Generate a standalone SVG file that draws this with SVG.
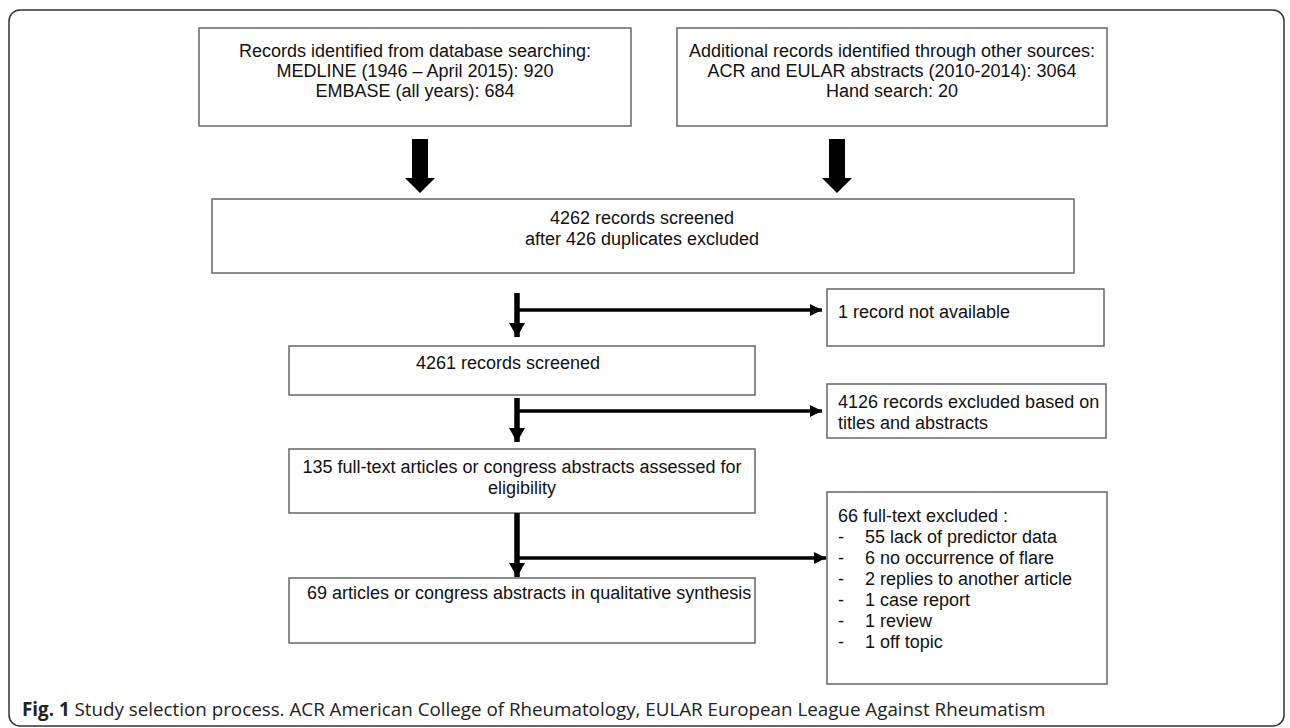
<svg xmlns="http://www.w3.org/2000/svg" width="1290" height="728" viewBox="0 0 1290 728">
<defs>
<style>
.box{fill:#fff;stroke:#666;stroke-width:1.5}
.t{font-family:"Liberation Sans",Arial,sans-serif;font-size:18px;fill:#111}
.c{text-anchor:middle}
.cap{font-family:"Open Sans","Noto Sans",sans-serif;font-size:18.8px;fill:#222}
.thin{stroke:#000;stroke-width:3.5;fill:none}
.vert{stroke:#000;stroke-width:5.5;fill:none}
</style>
<marker id="ah" markerUnits="userSpaceOnUse" markerWidth="12" markerHeight="14" refX="12" refY="7" orient="auto"><path d="M0,1 L12,7 L0,13 Z" fill="#000"/></marker>
<marker id="ahd" markerUnits="userSpaceOnUse" markerWidth="16" markerHeight="16" refX="14" refY="8" orient="auto"><path d="M0,0 L14,8 L0,16 Z" fill="#000"/></marker>
</defs>
<rect x="9" y="10" width="1275" height="716" rx="11" fill="none" stroke="#333" stroke-width="1.5"/>

<g id="n1">
<rect class="box" x="199" y="28" width="432" height="98"/>
<text class="t c" x="415" y="57">Records identified from database searching:</text>
<text class="t c" x="415" y="77">MEDLINE (1946 – April 2015): 920</text>
<text class="t c" x="415" y="97">EMBASE (all years): 684</text>
</g>
<g id="n2">
<rect class="box" x="677" y="28" width="430" height="98"/>
<text class="t c" x="892" y="57">Additional records identified through other sources:</text>
<text class="t c" x="892" y="77">ACR and EULAR abstracts (2010-2014): 3064</text>
<text class="t c" x="892" y="97">Hand search: 20</text>
</g>
<g id="n3">
<rect class="box" x="212" y="199" width="862" height="74"/>
<text class="t c" x="642" y="224">4262 records screened</text>
<text class="t c" x="642" y="245">after 426 duplicates excluded</text>
</g>
<g id="n4">
<rect class="box" x="827" y="289" width="277" height="57"/>
<text class="t" x="838" y="318">1 record not available</text>
</g>
<g id="n5">
<rect class="box" x="289" y="346" width="466" height="49"/>
<text class="t" x="416" y="369">4261 records screened</text>
</g>
<g id="n6">
<rect class="box" x="827" y="384" width="279" height="54"/>
<text class="t" x="838" y="408">4126 records excluded based on</text>
<text class="t" x="838" y="429">titles and abstracts</text>
</g>
<g id="n7">
<rect class="box" x="289" y="449" width="466" height="64"/>
<text class="t c" x="522" y="473">135 full-text articles or congress abstracts assessed for</text>
<text class="t c" x="522" y="494">eligibility</text>
</g>
<g id="n8">
<rect class="box" x="827" y="492" width="280" height="192"/>
<text class="t" x="838" y="522">66 full-text excluded :</text>
<text class="t" x="838" y="543">-</text><text class="t" x="865" y="543">55 lack of predictor data</text>
<text class="t" x="838" y="564">-</text><text class="t" x="865" y="564">6 no occurrence of flare</text>
<text class="t" x="838" y="585">-</text><text class="t" x="865" y="585">2 replies to another article</text>
<text class="t" x="838" y="606">-</text><text class="t" x="865" y="606">1 case report</text>
<text class="t" x="838" y="627">-</text><text class="t" x="865" y="627">1 review</text>
<text class="t" x="838" y="648">-</text><text class="t" x="865" y="648">1 off topic</text>
</g>
<g id="n9">
<rect class="box" x="289" y="578" width="466" height="65"/>
<text class="t" x="307" y="599">69 articles or congress abstracts in qualitative synthesis</text>
</g>

<g id="connectors">
<path d="M412,139 H428 V178 H435 L420,193 L405,178 H412 Z" fill="#000"/>
<path d="M829,139 H845 V178 H852 L837,193 L822,178 H829 Z" fill="#000"/>
<line class="vert" x1="517" y1="293" x2="517" y2="337" marker-end="url(#ahd)"/>
<line class="thin" x1="517" y1="310" x2="822" y2="310" marker-end="url(#ah)"/>
<line class="vert" x1="517" y1="398" x2="517" y2="442" marker-end="url(#ahd)"/>
<line class="thin" x1="517" y1="411" x2="822" y2="411" marker-end="url(#ah)"/>
<line class="vert" x1="517" y1="513" x2="517" y2="577" marker-end="url(#ahd)"/>
<line class="thin" x1="517" y1="558" x2="826" y2="558" marker-end="url(#ah)"/>
</g>

<text class="cap" x="22" y="716"><tspan font-weight="bold">Fig. 1</tspan> Study selection process. ACR American College of Rheumatology, EULAR European League Against Rheumatism</text>
</svg>
